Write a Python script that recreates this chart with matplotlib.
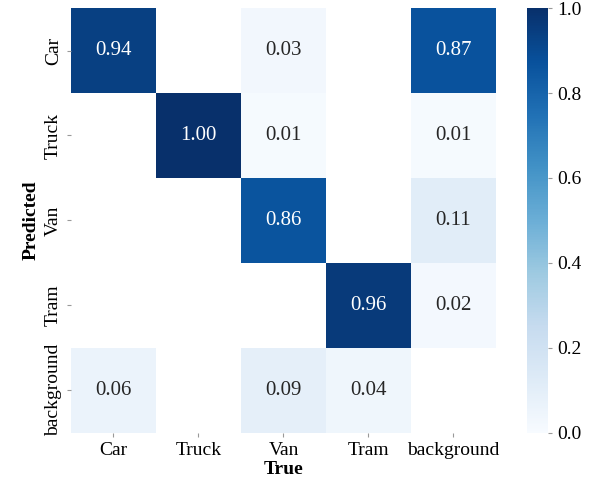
import numpy as np
import matplotlib
matplotlib.use("Agg")
import matplotlib.pyplot as plt
import seaborn as sns

labels = ["Car", "Truck", "Van", "Tram", "background"]
row_car = [0.94, np.nan, 0.03, np.nan, 0.87]
row_truck = [np.nan, 1.00, 0.01, np.nan, 0.01]
row_van = [np.nan, np.nan, 0.86, np.nan, 0.11]
row_tram = [np.nan, np.nan, np.nan, 0.96, 0.02]
row_background = [0.06, np.nan, 0.09, 0.04, np.nan]

matrix = np.array([row_car, row_truck, row_van, row_tram, row_background])

plt.rcParams['font.family'] = ['Liberation Serif', 'DejaVu Serif']
fig = plt.figure(figsize=(5.97, 4.79), dpi=100)
ax = fig.add_axes([0.1189, 0.097, 0.7119, 0.886])
cax = fig.add_axes([0.8827, 0.097, 0.0352, 0.886])

sns.heatmap(matrix, ax=ax, cbar_ax=cax, cmap="Blues", vmin=0, vmax=1,
            annot=True, fmt=".2f", annot_kws={"size": 15},
            xticklabels=labels, yticklabels=labels, square=False)
ax.set_xlabel("True", fontsize=14, fontweight="bold", labelpad=2)
ax.set_ylabel("Predicted", fontsize=14, fontweight="bold", labelpad=4)
ax.tick_params(axis='both', labelsize=14, length=3, color="#999999")
ax.set_yticklabels(labels, rotation=90, va='center')
ax.set_xticklabels(labels, rotation=0)
cax.tick_params(labelsize=14, length=3, color="#999999")
cax.set_yticks([0.0, 0.2, 0.4, 0.6, 0.8, 1.0])
cax.set_yticklabels(["0.0", "0.2", "0.4", "0.6", "0.8", "1.0"])
for s in cax.spines.values():
    s.set_visible(False)

fig.savefig("out.png", dpi=100)
